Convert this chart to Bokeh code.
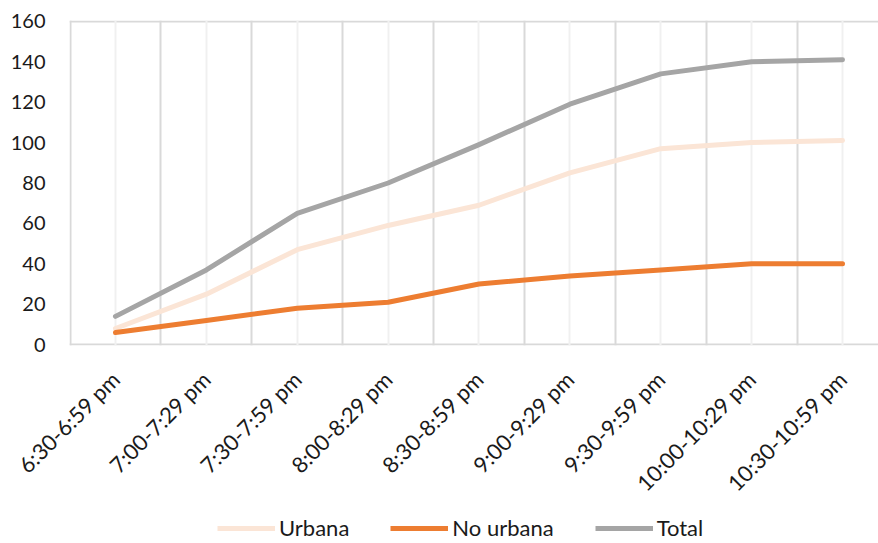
import math
from bokeh.plotting import figure
from bokeh.layouts import column
from bokeh.models import FixedTicker, Grid, Legend, LegendItem, Range1d, ColumnDataSource
from bokeh.embed import file_html
from bokeh.resources import INLINE

categories = ["6:30-6:59 pm", "7:00-7:29 pm", "7:30-7:59 pm", "8:00-8:29 pm", "8:30-8:59 pm",
              "9:00-9:29 pm", "9:30-9:59 pm", "10:00-10:29 pm", "10:30-10:59 pm"]
urbana = [8, 25, 47, 59, 69, 85, 97, 100, 101]
no_urbana = [6, 12, 18, 21, 30, 34, 37, 40, 40]
total = [14, 37, 65, 80, 99, 119, 134, 140, 141]
y_ticks = [0, 20, 40, 60, 80, 100, 120, 140, 160]
series_cols = ["urbana", "no_urbana", "total"]
series_names = ["Urbana", "No urbana", "Total"]
series_colors = ["#fbe5d6", "#ed7d31", "#a5a5a5"]

xs = list(range(len(categories)))
src = ColumnDataSource(dict(x=xs, urbana=urbana, no_urbana=no_urbana, total=total))

FONT = "Lato"
TXT = "#1a1a1a"

p = figure(width=878, height=510, output_backend="svg", toolbar_location=None,
           x_range=Range1d(-0.506, 8.396), y_range=Range1d(-0.4, 160.4),
           min_border_left=69, min_border_right=0, min_border_top=20, min_border_bottom=165)
p.outline_line_color = None

# x axis
p.xaxis.ticker = FixedTicker(ticks=xs)
p.xaxis.major_label_overrides = {i: c for i, c in enumerate(categories)}
p.xaxis.major_label_orientation = math.pi / 4
p.xaxis.axis_line_color = None
p.xaxis.major_tick_line_color = None
p.xaxis.major_tick_out = 0
p.xaxis.major_tick_in = 0
p.xaxis.minor_tick_line_color = None
p.xaxis.major_label_text_font = FONT
p.xaxis.major_label_text_font_size = "22px"
p.xaxis.major_label_text_color = TXT
p.xaxis.major_label_standoff = 30

# y axis
p.yaxis.ticker = FixedTicker(ticks=y_ticks)
p.yaxis.axis_line_color = None
p.yaxis.major_tick_line_color = None
p.yaxis.major_tick_out = 0
p.yaxis.major_tick_in = 0
p.yaxis.minor_tick_line_color = None
p.yaxis.major_label_text_font = FONT
p.yaxis.major_label_text_font_size = "20px"
p.yaxis.major_label_text_color = TXT
p.yaxis.major_label_standoff = 24

# grids
p.xgrid.ticker = FixedTicker(ticks=[i - 0.5 for i in range(len(categories) + 1)])
p.xgrid.grid_line_color = "#d9d9d9"
p.xgrid.grid_line_width = 2
minor_grid = Grid(dimension=0, ticker=FixedTicker(ticks=xs), grid_line_color="#f0f0f0", grid_line_width=2)
p.add_layout(minor_grid)
p.ygrid.ticker = FixedTicker(ticks=[0, 160])
p.ygrid.grid_line_color = "#d9d9d9"
p.ygrid.grid_line_width = 2

for col, color in zip(series_cols, series_colors):
    p.line("x", col, source=src, line_color=color, line_width=5, line_cap="round", line_join="round")

# legend strip (its series lie outside its own visible range; only the legend shows)
lg = figure(width=878, height=33, output_backend="svg", toolbar_location=None,
            x_axis_location=None, y_axis_location=None,
            x_range=Range1d(-0.506, 8.396), y_range=Range1d(-1000, -999),
            min_border_left=69, min_border_right=0, min_border_top=0, min_border_bottom=0)
lg.outline_line_color = None
lg.grid.visible = False
items = []
for col, name, color in zip(series_cols, series_names, series_colors):
    r = lg.line("x", col, source=src, line_color=color, line_width=5)
    items.append(LegendItem(label=name, renderers=[r]))
legend = Legend(items=items, orientation="horizontal", location=(148, 2),
                label_text_font=FONT, label_text_font_size="22px", label_text_color=TXT,
                glyph_width=58, glyph_height=20, label_height=20, label_standoff=4, spacing=41,
                padding=0, margin=0, border_line_color=None, background_fill_alpha=0)
lg.add_layout(legend)

layout = column(p, lg, spacing=0)
open("out.html", "w").write(file_html(layout, INLINE))
